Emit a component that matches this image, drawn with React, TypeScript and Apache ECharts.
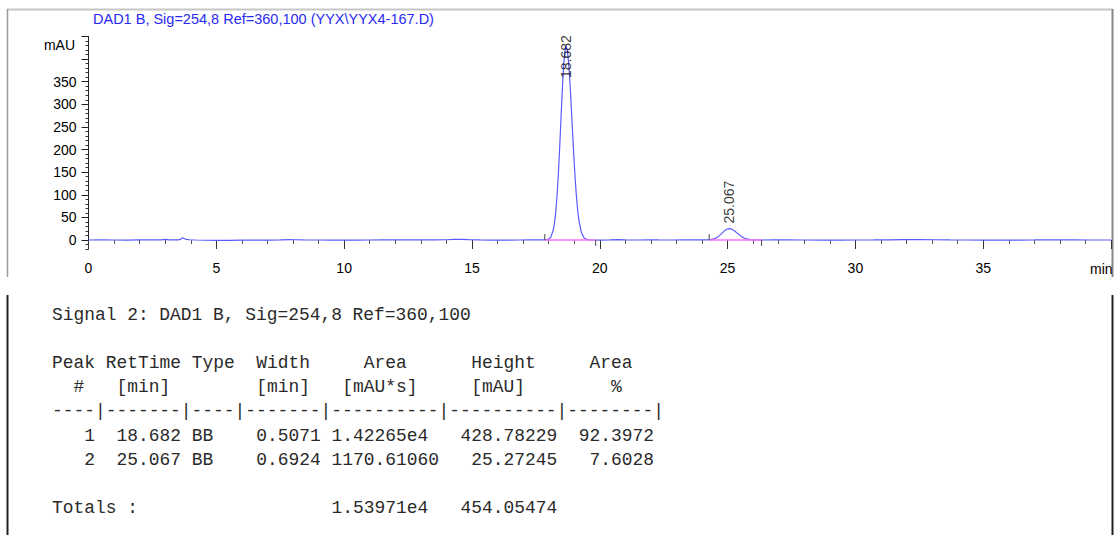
import React, { useEffect, useRef } from "react";
import * as echarts from "echarts";

// ---- chromatogram trace (time in min, signal in mAU) ----
const traceTime = [
  0, 0.5, 1, 1.5, 2, 2.5, 2.85, 3.0, 3.15, 3.5, 3.6, 3.68, 3.74, 3.82, 3.95, 4.2, 4.6, 5.0, 5.5, 6.0,
  6.5, 7.0, 7.5, 7.9, 8.1, 8.4, 9.0, 9.5, 10.0, 10.5, 11.0, 11.5, 12.0, 12.5, 13.0, 13.5, 14.0, 14.3,
  14.6, 14.9, 15.3, 15.8, 16.3, 16.8, 17.3, 17.7,
  17.882, 17.982, 18.082, 18.182, 18.232, 18.282, 18.332, 18.382, 18.432, 18.482, 18.532, 18.582,
  18.632, 18.682, 18.732, 18.782, 18.832, 18.882, 18.932, 18.982, 19.032, 19.082, 19.132, 19.182,
  19.282, 19.382, 19.482, 19.582, 19.8,
  20.0, 20.4, 20.7, 21.0, 21.4, 21.9, 22.3, 22.8, 23.3, 23.8,
  24.067, 24.267, 24.467, 24.567, 24.667, 24.767, 24.867, 24.967, 25.067, 25.167, 25.267, 25.367,
  25.467, 25.567, 25.667, 25.867, 26.067, 26.3,
  26.8, 27.3, 28.0, 28.7, 29.4, 30.0, 30.7, 31.3, 31.9, 32.5, 33.1, 33.7, 34.4, 35.0, 35.7, 36.4,
  37.0, 37.5, 37.9, 38.5, 39.2, 40.0,
];
const traceMAU = [
  0, 0.1, 0, -0.1, 0.2, 0.3, 0.4, 1.2, 0.3, 0.2, 1.5, 4.8, 3.2, 1.5, 0.5, 0, -0.6, -1.0, -0.8, -0.4,
  -0.2, -0.1, 0.1, 0.7, 0.6, 0.1, 0, -0.1, -0.2, -0.1, 0, 0.1, 0.1, 0.2, 0.3, 0.4, 0.6, 1.3,
  1.5, 0.8, 0.2, -0.2, -0.1, 0, 0.1, 0.1,
  0.2, 1.3, 5.9, 22.0, 38.5, 63.9, 99.9, 147.0, 203.8, 266.4, 328.0, 380.7,
  416.2, 428.78, 419.2, 391.7, 349.7, 298.5, 243.5, 189.8, 141.4, 100.6, 68.5, 44.6,
  16.5, 5.1, 1.3, 0.3, 0,
  -0.2, 0.1, 0.8, 0.3, 0.0, 0.6, 0.1, 0, 0.1, 0.2,
  0.2, 0.4, 2.5, 5.1, 9.1, 14.2, 19.6, 23.7, 25.27, 24.0, 20.5, 15.8,
  11.0, 6.9, 3.9, 0.9, 0.1, 0,
  0.1, 0.2, 0, -0.2, -0.1, 0, 0.2, 0.4, 0.8, 1.0, 0.6, 0.2, 0, -0.3, -0.3, -0.1,
  0.1, 0.6, 0.3, 0.1, 0, 0,
];

// ---- integrated peaks ----
const peakNo = ["1", "2"];
const peakRetTime = [18.682, 25.067];
const peakRetTimeText = ["18.682", "25.067"];
const peakHeight = [428.78229, 25.27245];
const peakHeightText = ["428.78229", "25.27245"];
const peakStart = [17.85, 24.28];
const peakEnd = [19.84, 26.33];
const peakType = ["BB", "BB"];
const peakWidth = ["0.5071", "0.6924"];
const peakArea = ["1.42265e4", "1170.61060"];
const peakAreaPct = ["92.3972", "7.6028"];
const totalArea = "1.53971e4";
const totalHeight = "454.05474";

// ---- axis ticks / texts ----
const xMin = 0;
const xMax = 40;
const xInterval = 5;
const yMin = -20;
const yMax = 450;
const yMajor = 50;
const yMinor = 10;
const yLabelMax = 350;
const chartTitle = "DAD1 B, Sig=254,8 Ref=360,100 (YYX\\YYX4-167.D)";
const yUnit = "mAU";
const xUnit = "min";
const signalTitle = "Signal 2: DAD1 B, Sig=254,8 Ref=360,100";
const headerRow1 = [
  { text: "Peak", col: 0 },
  { text: "RetTime", col: 5 },
  { text: "Type", col: 13 },
  { text: "Width", col: 19 },
  { text: "Area", col: 29 },
  { text: "Height", col: 39 },
  { text: "Area", col: 50 },
];
const headerRow2 = [
  { text: "#", col: 2 },
  { text: "[min]", col: 6 },
  { text: "[min]", col: 19 },
  { text: "[mAU*s]", col: 27 },
  { text: "[mAU]", col: 39 },
  { text: "%", col: 52 },
];
const dashRow = "----|-------|----|-------|----------|----------|--------|";
const totalsLabel = "Totals :";

// layout constants
const PLOT_LEFT = 88.5;
const PLOT_WIDTH = 1025.5;
const Y_ZERO = 240;
const PX_PER_MAU = 0.4523;
const LABEL_CAP = 347;
const BOUND_TICK = 13;
const SANS = '"Liberation Sans", Arial, sans-serif';
const MONO = '"Liberation Mono", "DejaVu Sans Mono", monospace';
const CW = 10.75;
const TX = 52;
const ROW_Y = [315, 363, 387, 411, 436, 460, 508];
const TABLE_INK = "#2a2a2a";

export default function App() {
  const ref = useRef<HTMLDivElement>(null);

  useEffect(() => {
    if (!ref.current) return;
    const chart = echarts.init(ref.current, null, { renderer: "svg" });

    const topMajor = Y_ZERO - yMax * PX_PER_MAU;
    const g1Height = (yMax - yMin) * PX_PER_MAU;
    const g2Height = yMax * PX_PER_MAU;

    const trace = traceTime.map((t, i) => [t, traceMAU[i]]);

    const series: any[] = [
      {
        type: "line",
        xAxisIndex: 0,
        yAxisIndex: 0,
        data: trace,
        showSymbol: false,
        symbol: "none",
        lineStyle: { color: "#5a5aff", width: 1.2 },
        z: 2,
      },
    ];
    peakStart.forEach((s, i) => {
      series.push({
        type: "line",
        xAxisIndex: 0,
        yAxisIndex: 0,
        data: [
          [s, 0],
          [peakEnd[i], 0],
        ],
        symbol: "none",
        lineStyle: { color: "#ff70ff", width: 1.4 },
        z: 3,
      });
      series.push({
        type: "line",
        xAxisIndex: 0,
        yAxisIndex: 0,
        data: [
          [s, 0],
          [s, BOUND_TICK],
        ],
        symbol: "none",
        lineStyle: { color: "#444", width: 1 },
        z: 4,
      });
      series.push({
        type: "line",
        xAxisIndex: 0,
        yAxisIndex: 0,
        data: [
          [peakEnd[i], 0],
          [peakEnd[i], -BOUND_TICK],
        ],
        symbol: "none",
        lineStyle: { color: "#444", width: 1 },
        z: 4,
      });
    });
    series.push({
      type: "scatter",
      xAxisIndex: 0,
      yAxisIndex: 0,
      symbolSize: 0,
      itemStyle: { color: "transparent" },
      data: peakRetTime.map((t, i) => ({
        value: [t, Math.min(peakHeight[i], LABEL_CAP)],
        label: { formatter: peakRetTimeText[i] },
      })),
      label: {
        show: true,
        position: "top",
        distance: 5,
        rotate: 90,
        align: "left",
        verticalAlign: "middle",
        fontSize: 14,
        fontFamily: SANS,
        color: "#000",
      },
      z: 10,
    });

    const graphics: any[] = [];
    const txt = (text: string, x: number, y: number, font: string, fill: string, align = "left") => ({
      type: "text",
      x,
      y,
      silent: true,
      style: { text, font, fill, textAlign: align, textVerticalAlign: "middle" },
    });
    const ln = (x1: number, y1: number, x2: number, y2: number, stroke: string, w: number) => ({
      type: "line",
      silent: true,
      shape: { x1, y1, x2, y2 },
      style: { stroke, lineWidth: w },
    });

    // frames
    graphics.push(ln(7, 9.5, 1113, 9.5, "#c6c6c6", 2));
    graphics.push(ln(7.5, 9, 7.5, 277, "#9a9a9a", 1.5));
    graphics.push(ln(1112.5, 9, 1112.5, 277, "#888", 2));
    graphics.push(ln(7.5, 295, 7.5, 535, "#222", 2));
    graphics.push(ln(1112.5, 295, 1112.5, 535, "#222", 2));

    // chart texts
    graphics.push(txt(chartTitle, 93, 19, `14.5px ${SANS}`, "#2a2af2"));
    graphics.push(txt(yUnit, 75, 45, `14px ${SANS}`, "#000", "right"));
    graphics.push(txt(xUnit, 1090, 269, `14px ${SANS}`, "#000"));

    // report table
    const mono = `17.9px ${MONO}`;
    const col = (c: number) => TX + c * CW;
    graphics.push(txt(signalTitle, col(0), ROW_Y[0], mono, TABLE_INK));
    headerRow1.forEach((h) => graphics.push(txt(h.text, col(h.col), ROW_Y[1], mono, TABLE_INK)));
    headerRow2.forEach((h) => graphics.push(txt(h.text, col(h.col), ROW_Y[2], mono, TABLE_INK)));
    graphics.push(txt(dashRow, col(0), ROW_Y[3], mono, TABLE_INK));
    peakNo.forEach((p, i) => {
      const y = ROW_Y[4 + i];
      graphics.push(txt(p, col(4), y, mono, TABLE_INK, "right"));
      graphics.push(txt(peakRetTimeText[i], col(12), y, mono, TABLE_INK, "right"));
      graphics.push(txt(peakType[i], col(13), y, mono, TABLE_INK));
      graphics.push(txt(peakWidth[i], col(25), y, mono, TABLE_INK, "right"));
      graphics.push(txt(peakArea[i], col(26), y, mono, TABLE_INK));
      graphics.push(txt(peakHeightText[i], col(47), y, mono, TABLE_INK, "right"));
      graphics.push(txt(peakAreaPct[i], col(56), y, mono, TABLE_INK, "right"));
    });
    graphics.push(txt(totalsLabel, col(0), ROW_Y[6], mono, TABLE_INK));
    graphics.push(txt(totalArea, col(26), ROW_Y[6], mono, TABLE_INK));
    graphics.push(txt(totalHeight, col(47), ROW_Y[6], mono, TABLE_INK, "right"));

    chart.setOption({
      animation: false,
      backgroundColor: "#ffffff",
      grid: [
        { left: PLOT_LEFT, width: PLOT_WIDTH, top: topMajor, height: g1Height, containLabel: false },
        { left: PLOT_LEFT, width: PLOT_WIDTH, top: topMajor, height: g2Height, containLabel: false },
      ],
      xAxis: [
        {
          type: "value",
          gridIndex: 0,
          min: xMin,
          max: xMax,
          interval: xInterval,
          offset: 4,
          axisLine: { show: false },
          axisTick: { show: true, length: 9, lineStyle: { color: "#333", width: 1 } },
          minorTick: { show: true, splitNumber: 5, length: 4, lineStyle: { color: "#555", width: 1 } },
          splitLine: { show: false },
          minorSplitLine: { show: false },
          axisLabel: {
            margin: 8,
            fontSize: 14,
            fontFamily: SANS,
            color: "#000",
            formatter: (v: number) => (v === xMax ? "" : String(v)),
          },
        },
        { type: "value", gridIndex: 1, min: xMin, max: xMax, show: false },
      ],
      yAxis: [
        {
          type: "value",
          gridIndex: 0,
          min: yMin,
          max: yMax,
          interval: yMinor,
          axisLine: { show: true, lineStyle: { color: "#222", width: 1 } },
          axisTick: { show: true, length: 3, lineStyle: { color: "#333", width: 1 } },
          axisLabel: { show: false },
          splitLine: { show: false },
        },
        {
          type: "value",
          gridIndex: 1,
          min: 0,
          max: yMax,
          interval: yMajor,
          axisLine: { show: false },
          axisTick: { show: true, length: 7, lineStyle: { color: "#222", width: 1 } },
          splitLine: { show: false },
          axisLabel: {
            margin: 12,
            fontSize: 14,
            fontFamily: SANS,
            color: "#000",
            formatter: (v: number) => (v <= yLabelMax ? String(v) : ""),
          },
        },
      ],
      series,
      graphic: graphics,
    });

    return () => chart.dispose();
  }, []);

  return (
    <div
      ref={ref}
      style={{ position: "absolute", left: 0, top: 0, width: 1114, height: 535, background: "#fff" }}
    />
  );
}
